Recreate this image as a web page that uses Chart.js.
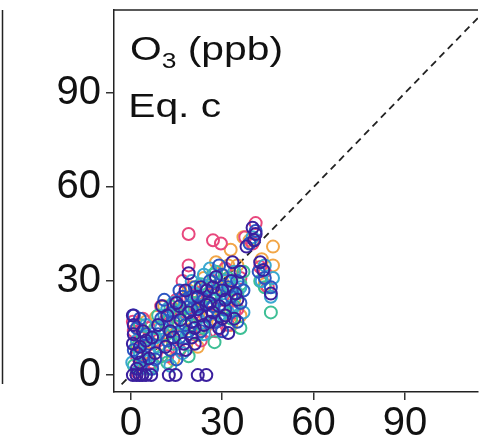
<!DOCTYPE html>
<html>
<head>
<meta charset="utf-8">
<script src="https://cdn.jsdelivr.net/npm/chart.js@4"></script>
<style>
  html, body { margin: 0; padding: 0; background: #fff; overflow: hidden; }
</style>
</head>
<body>
<canvas id="myChart" width="486" height="445"></canvas>
<script>
const xTicks = [0, 30, 60, 90];
const yTicks = [0, 30, 60, 90];
const identityLine = [-3, 120];

// observed vs modelled O3 (ppb), one array per colour group
const navyPts = [[0.7,0],[1.9,0],[2.9,0],[3.8,0],[5,0],[6.7,0],[12.5,0],[14.7,0],[22,0],[24.8,0],
  [0.7,10],[0.7,19],[1,13],[5,11],[6,5.3],[3,4],[10.3,22],[11.4,9],[13,14],[12,19],[16.3,17.6],
  [17.4,10],[15,23],[19,32.5],[19,20],[21,15],[22,25],[24.8,22.4],[23,19],[26,17],[25,27],
  [28,31.3],[27,20],[29,22],[30,18],[30,27],[32,13.4],[33.4,36],[34,18],[34.4,26],[31,24],
  [38,41],[40,47],[41,45],[40.5,43],[42.5,36],[43.5,33.5],[46,26],[20,12],[18,27],[8,7],[4,14],[2,2],
  [14,12],[16,22],[18,8],[20,17],[22,21],[24,16],[26,23],[27,28],[29,15],[31,19],[33,30],[35,24],
  [36,33],[21,10],[23,28],[9,16],[7,12],[2,7],[1,16],[3,9]];
const bluePts = [[1,8],[2,15],[4,6],[6,10],[9,13],[10,18],[11,24],[13,8],[14,20],[16,12],[17,25],
  [18,16],[20,21],[21,28],[23,14],[24,24],[26,30],[27,22],[28,17],[30,32],[31,21],[32,28],[35,30],
  [36,23],[39,42],[41,46],[42,33],[44,31],[46,28],[29,35],[15,5],[7,2],[3,18],
  [12,11],[14,17],[16,27],[19,14],[22,22],[25,19],[28,26],[30,14],[33,25],[35,17],[37,27],[20,25],
  [8,5],[5,13],[1,19]];
const cyanPts = [[0.5,4],[2,11],[3,7],[5,16],[7,3],[9,9],[10,15],[12,21],[13,3],[15,17],[17,7],
  [19,22],[20,30],[22,18],[24,13],[25,28],[26,34],[28,24],[29,19],[31,30],[33,22],[34,33],[36,28],
  [37,20],[40,44],[43,30],[46.7,31],[46,25],[44,35],[18,12],[8,12],
  [11,19],[14,23],[16,14],[21,26],[23,22],[27,17],[30,26],[32,20],[34,28],[24,32],[6,8],[3,2]];
const greenPts = [[1,3],[2,9],[4,12],[6,2],[8,15],[10,6],[11,13],[13,22],[14,10],[16,19],[18,24],
  [20,16],[21,23],[23,29],[24,15],[26,25],[27.5,10.5],[28,33],[29,27],[30,21],[32,31],[33,18],
  [35,26],[37,33],[36,15],[42.5,30],[46,20],[44,28],[19,6],[3,16],[12,4],
  [12,17],[15,13],[17,21],[22,13],[25,23],[27,32],[31,25],[34,22],[36,29],[9,19],[5,5]];
const pinkPts = [[0.7,17],[1,14],[2,6],[3,12],[5,9],[7,4],[9,11],[11,17],[12,6],[14,15],[15,24],
  [16,8],[18,20],[19,35],[19,45],[20,13],[22,26],[23,11],[25,20],[27,43],[29.6,42],[27,30],[28,14],
  [30,24],[31,34],[33,27],[34,20],[36,31],[37.6,44],[41,48.5],[42.5,34.5],[45,28],[44,33],[40,42],
  [17,30],[6,15],[13,19],[16,24],[21,20],[24,27],[26,14],[29,29],[32,16],[35,21],[10,22],[4,18],[2,1]];
const orangePts = [[5,17],[8.3,18.5],[2,10],[4,3],[6,7],[10,10],[12,16],[14,5],[15,21],[17,14],
  [19,27],[21,19],[22,9],[24,31],[25,16],[27,26],[28,36],[29,21],[31,28],[32,35],[32.8,40],[34,24],
  [35,35],[36,19],[37,44],[39,43],[46.7,41],[46.7,35],[43,37],[44,29],
  [11,22],[13,12],[18,18],[20,28],[23,24],[26,19],[30,30],[33,16],[3,14],[7,10]];

function pts(arr) {
  return arr.map(p => ({x: p[0], y: p[1]}));
}

function circles(arr, color) {
  return {
    type: 'scatter',
    data: pts(arr),
    borderColor: color,
    backgroundColor: 'rgba(0,0,0,0)',
    pointRadius: 6,
    borderWidth: 2
  };
}

const decor = {
  id: 'decor',
  afterDraw(chart) {
    const c = chart.ctx;
    const a = chart.chartArea;
    c.save();
    c.strokeStyle = '#222';
    c.lineWidth = 1.5;
    // top edge of the panel
    c.beginPath();
    c.moveTo(a.left, a.top);
    c.lineTo(a.right, a.top);
    c.stroke();
    // right edge of the neighbouring panel
    c.beginPath();
    c.moveTo(2.5, a.top);
    c.lineTo(2.5, 384);
    c.stroke();

    // panel labels, a bit wide like the original
    c.fillStyle = '#111';
    c.textBaseline = 'alphabetic';
    c.translate(130, 0);
    c.scale(1.2, 1);
    c.font = '34px "Liberation Sans", Arial, sans-serif';
    c.fillText('O', 0, 60);
    const w = c.measureText('O').width;
    c.font = '22px "Liberation Sans", Arial, sans-serif';
    c.fillText('3', w, 68);
    const w3 = c.measureText('3').width;
    c.font = '34px "Liberation Sans", Arial, sans-serif';
    c.fillText(' (ppb)', w + w3, 60);
    c.fillText('Eq. c', -1.5, 117);
    c.restore();
  }
};

const tickFont = { size: 40, family: '"Liberation Sans", Arial, sans-serif' };

new Chart(document.getElementById('myChart'), {
  data: {
    datasets: [
      circles(navyPts, '#3a1f9e'),
      circles(bluePts, '#2c55c2'),
      circles(cyanPts, '#3aa8d0'),
      circles(greenPts, '#3dbf95'),
      circles(pinkPts, '#e8477d'),
      circles(orangePts, '#f2a647'),
      {
        type: 'line',
        data: identityLine.map(v => ({x: v, y: v})),
        borderColor: '#222',
        borderWidth: 1.8,
        borderDash: [7, 5],
        pointRadius: 0,
        fill: false
      }
    ]
  },
  options: {
    responsive: false,
    animation: false,
    devicePixelRatio: 1,
    layout: { padding: { top: 10, right: 0, left: 0, bottom: 0 } },
    plugins: {
      legend: { display: false },
      tooltip: { enabled: false }
    },
    scales: {
      x: {
        type: 'linear',
        min: -5.5,
        max: 114,
        afterFit: s => { s.height = 53; s.paddingLeft = 0; s.paddingRight = 0; },
        afterBuildTicks: s => { s.ticks = xTicks.map(v => ({value: v})); },
        ticks: {
          font: tickFont,
          color: '#111',
          padding: 0,
          maxRotation: 0,
          autoSkip: false
        },
        grid: { drawOnChartArea: false, tickLength: 8, color: '#333', lineWidth: 1.5 },
        border: { color: '#222', width: 1.5 }
      },
      y: {
        type: 'linear',
        min: -5.4,
        max: 116.5,
        afterFit: s => { s.width = 114; s.paddingTop = 0; s.paddingBottom = 0; },
        afterBuildTicks: s => { s.ticks = yTicks.map(v => ({value: v})); },
        ticks: {
          font: tickFont,
          color: '#111',
          padding: 5,
          autoSkip: false
        },
        grid: { drawOnChartArea: false, tickLength: 8, color: '#333', lineWidth: 1.5 },
        border: { color: '#222', width: 1.5 }
      }
    }
  },
  plugins: [decor]
});
</script>
</body>
</html>
